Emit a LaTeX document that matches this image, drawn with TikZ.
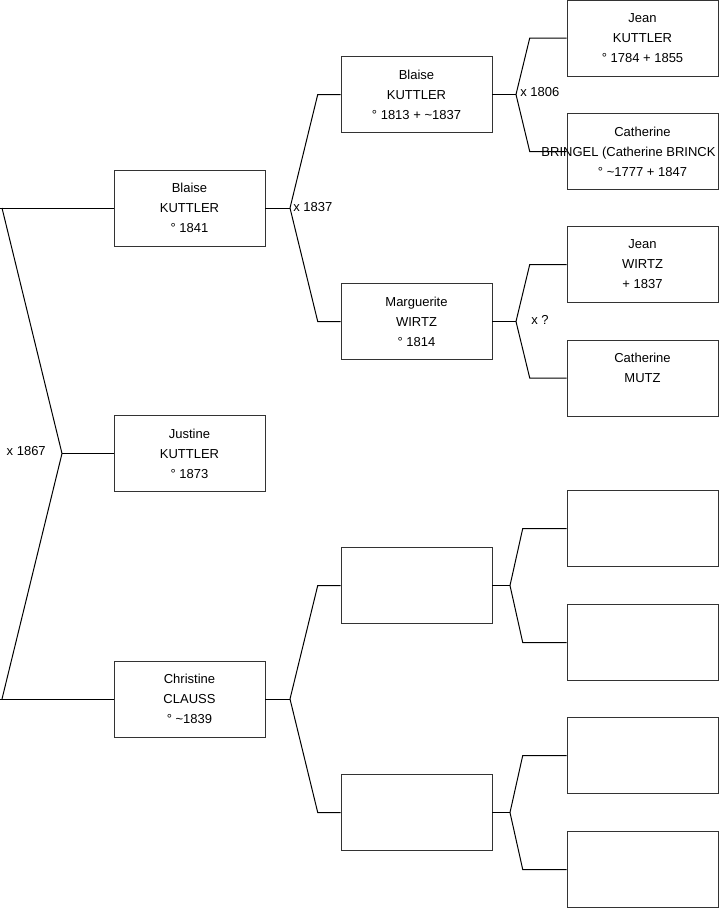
\documentclass[tikz,border=0pt]{standalone}
\usepackage{fontspec}
\setmainfont{Liberation Sans}
\usetikzlibrary{positioning}

\begin{document}
\begin{tikzpicture}[
  x=0.75pt, y=-0.75pt,
  person/.style={draw=black!80, fill=white, minimum width=113.25pt,
    minimum height=57pt, align=center, inner sep=0pt,
    font=\fontsize{9.75}{15}\selectfont},
  link/.style={draw=black, line width=0.75pt},
  wed/.style={inner sep=0pt, font=\fontsize{9.75}{12}\selectfont}
]
\useasboundingbox (0,0) rectangle (719,908);

% generation 1
\node[person] (blaise) at (189.5,208) {Blaise\\KUTTLER\\\textdegree{} 1841};
\node[person] (justine) at (189.5,453.5) {Justine\\KUTTLER\\\textdegree{} 1873};
\node[person] (christine) at (189.5,699) {Christine\\CLAUSS\\\textdegree{} \textasciitilde1839};

% generation 2
\node[person] (blaiseF) at (416.5,94.5) {Blaise\\KUTTLER\\\textdegree{} 1813 + \textasciitilde1837};
\node[person] (marguerite) at (416.5,321.5) {Marguerite\\WIRTZ\\\textdegree{} 1814};
\node[person] (unkA) at (416.5,585.5) {};
\node[person] (unkB) at (416.5,812.5) {};

% generation 3
\node[person] (jeanK) at (642.5,38) {Jean\\KUTTLER\\\textdegree{} 1784 + 1855};
\node[person] (catherineB) at (642.5,151.5) {};
\node[person] (jeanW) at (642.5,264.5) {Jean\\WIRTZ\\ + 1837};
\node[person] (catherineM) at (642.5,378) {Catherine\\MUTZ\\\mbox{}};
\node[person] (unkC) at (642.5,528.5) {};
\node[person] (unkD) at (642.5,642.5) {};
\node[person] (unkE) at (642.5,755.5) {};
\node[person] (unkF) at (642.5,869.5) {};

% root fork
\coordinate (rootA) at (0,208);
\coordinate (rootB) at (0,699);
\coordinate (x1867) at (62,453.5);
\draw[link] (rootA) -- (blaise.west);
\draw[link] (rootB) -- (christine.west);
\draw[link] ([xshift=1.5pt]rootA) -- (x1867) -- ([xshift=1.5pt]rootB);
\draw[link] (x1867) -- (justine.west);
\node[wed, anchor=east] (wedA) at (46,451) {x 1867};

% forks of generation 1
\coordinate (x1837) at (290,208);
\draw[link] (blaise.east) -- (x1837);
\draw[link] (x1837) -- ([xshift=-17.25pt]blaiseF.west) -- (blaiseF.west);
\draw[link] (x1837) -- ([xshift=-17.25pt]marguerite.west) -- (marguerite.west);
\node[wed, anchor=west] (wedB) at (293,207) {x 1837};

\coordinate (xCl) at (290,699);
\draw[link] (christine.east) -- (xCl);
\draw[link] (xCl) -- ([xshift=-17.25pt]unkA.west) -- (unkA.west);
\draw[link] (xCl) -- ([xshift=-17.25pt]unkB.west) -- (unkB.west);

% forks of generation 2
\coordinate (x1806) at (516,94.5);
\draw[link] (blaiseF.east) -- (x1806);
\draw[link] (x1806) -- ([xshift=-27.75pt]jeanK.west) -- (jeanK.west);
\draw[link] (x1806) -- ([xshift=-27.75pt]catherineB.west) -- (catherineB.west);
\node[wed, anchor=west] (wedC) at (520,92.5) {x 1806};

\coordinate (xWi) at (516,321.5);
\draw[link] (marguerite.east) -- (xWi);
\draw[link] (xWi) -- ([xshift=-27.75pt]jeanW.west) -- (jeanW.west);
\draw[link] (xWi) -- ([xshift=-27.75pt]catherineM.west) -- (catherineM.west);
\node[wed, anchor=west] (wedD) at (531,319.5) {x ?};

\coordinate (xUa) at (510,585.5);
\draw[link] (unkA.east) -- (xUa);
\draw[link] (xUa) -- ([xshift=-33pt]unkC.west) -- (unkC.west);
\draw[link] (xUa) -- ([xshift=-33pt]unkD.west) -- (unkD.west);

\coordinate (xUb) at (510,812.5);
\draw[link] (unkB.east) -- (xUb);
\draw[link] (xUb) -- ([xshift=-33pt]unkE.west) -- (unkE.west);
\draw[link] (xUb) -- ([xshift=-33pt]unkF.west) -- (unkF.west);

% overflowing text of Catherine
\node[align=center, inner sep=0pt, font=\fontsize{9.75}{15}\selectfont]
  (catherineBtext) at (catherineB.center)
  {Catherine\\BRINGEL (Catherine BRINCK\rule{21pt}{0pt}\\\textdegree{} \textasciitilde1777 + 1847};
\end{tikzpicture}
\end{document}
